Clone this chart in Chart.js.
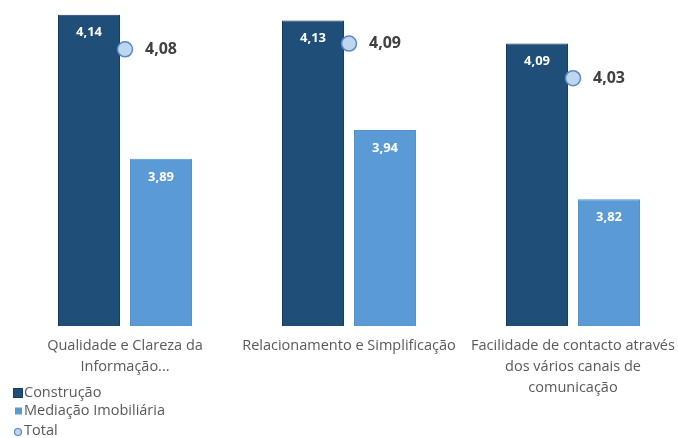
<!DOCTYPE html>
<html>
<head>
<meta charset="utf-8">
<script src="https://cdn.jsdelivr.net/npm/chart.js@4"></script>
<style>
  body { margin: 0; background: #ffffff; }
  #wrap { width: 678px; height: 438px; }
</style>
</head>
<body>
<div id="wrap"><canvas id="grafico" width="678" height="438"></canvas></div>
<script>
// dados do grafico
const categorias = [
  ['Qualidade e Clareza da', 'Informação...'],
  ['Relacionamento e Simplificação'],
  ['Facilidade de contacto através', 'dos vários canais de', 'comunicação']
]
const construcao = [4.14, 4.13, 4.09]
const mediacao = [3.89, 3.94, 3.82]
const total = [4.08, 4.09, 4.03]
const escalaMin = 3.6
const escalaMax = 4.15

const FONTE = "'Open Sans', 'DejaVu Sans', sans-serif"
const CINZA = '#595959'

function formatar(v){
  return v.toFixed(2).replace('.', ',')
}

// valores escritos nas barras e ao lado dos pontos
const rotulosValores = {
  id: 'rotulosValores',
  afterDatasetsDraw(chart){
    const ctx = chart.ctx
    ctx.save()
    ctx.textBaseline = 'middle'
    chart.data.datasets.forEach((ds, i) => {
      const meta = chart.getDatasetMeta(i)
      meta.data.forEach((el, j) => {
        const v = ds.data[j]
        if(ds.type === 'line'){
          ctx.fillStyle = '#404040'
          ctx.font = 'bold 16px ' + FONTE
          ctx.textAlign = 'left'
          ctx.fillText(formatar(v), el.x + 20, el.y)
        } else {
          ctx.fillStyle = '#ffffff'
          ctx.font = 'bold 13px ' + FONTE
          ctx.textAlign = 'center'
          ctx.fillText(formatar(v), el.x, el.y + 18)
        }
      })
    })
    ctx.restore()
  }
}

// legenda vertical no canto inferior esquerdo
const legendaVertical = {
  id: 'legendaVertical',
  afterDraw(chart){
    const ctx = chart.ctx
    const linhas = [393, 411, 431]
    ctx.save()
    ctx.font = '14.5px ' + FONTE
    ctx.textBaseline = 'middle'
    ctx.textAlign = 'left'
    chart.data.datasets.forEach((ds, i) => {
      const y = linhas[i]
      if(i === 0){
        ctx.fillStyle = ds.backgroundColor
        ctx.fillRect(13, y - 5, 10, 10)
        ctx.strokeStyle = ds.borderColor
        ctx.lineWidth = 1
        ctx.strokeRect(13.5, y - 4.5, 9, 9)
      } else if(i === 1){
        ctx.fillStyle = ds.backgroundColor
        ctx.fillRect(15, y - 3.5, 7, 7)
      } else {
        ctx.beginPath()
        ctx.arc(18, y + 1, 3.5, 0, Math.PI * 2)
        ctx.fillStyle = ds.pointBackgroundColor
        ctx.fill()
        ctx.strokeStyle = ds.pointBorderColor
        ctx.lineWidth = 1.2
        ctx.stroke()
      }
      ctx.fillStyle = CINZA
      ctx.fillText(ds.label, 24, y)
    })
    ctx.restore()
  }
}

const ctx = document.getElementById('grafico')

var grafico = new Chart(ctx, {
  data: {
    labels: categorias,
    datasets: [
      {
        type: 'bar',
        label: 'Construção',
        data: construcao,
        base: escalaMin,
        backgroundColor: '#1f4e79',
        borderColor: '#173c5e',
        borderWidth: 1,
        categoryPercentage: 0.643,
        barPercentage: 0.861,
        clip: false,
        order: 2
      },
      {
        type: 'bar',
        label: 'Mediação Imobiliária',
        data: mediacao,
        base: escalaMin,
        backgroundColor: '#5b9bd5',
        borderColor: '#5592ca',
        borderWidth: 1,
        categoryPercentage: 0.643,
        barPercentage: 0.861,
        clip: false,
        order: 2
      },
      {
        type: 'line',
        label: 'Total',
        data: total,
        showLine: false,
        pointRadius: 7.5,
        pointHoverRadius: 7.5,
        pointBackgroundColor: '#bdd7ee',
        pointBorderColor: '#5b86c8',
        pointBorderWidth: 1.5,
        clip: false,
        order: 1
      }
    ]
  },
  options: {
    responsive: false,
    animation: false,
    events: [],
    layout: {
      padding: { top: 7, left: 125, right: 105, bottom: 0 }
    },
    plugins: {
      legend: { display: false },
      tooltip: { enabled: false }
    },
    scales: {
      x: {
        offset: false,
        grid: { display: false, drawTicks: false },
        border: { display: false },
        ticks: {
          autoSkip: false,
          maxRotation: 0,
          padding: 9,
          color: CINZA,
          font: { family: FONTE, size: 14.5, lineHeight: 1.45 }
        },
        afterFit(axis){
          axis.height = 112
          axis.paddingLeft = 0
          axis.paddingRight = 0
        }
      },
      y: {
        display: false,
        min: escalaMin,
        max: escalaMax
      }
    }
  },
  plugins: [rotulosValores, legendaVertical]
})
</script>
</body>
</html>
